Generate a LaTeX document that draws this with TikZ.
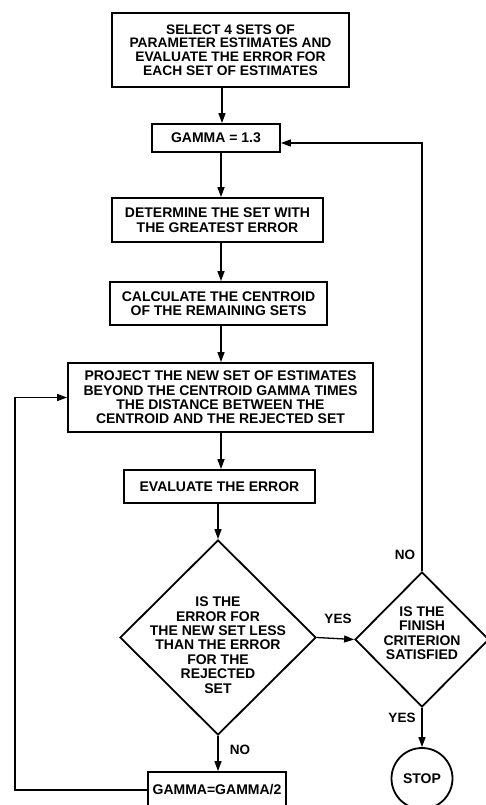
\documentclass[tikz,border=0pt]{standalone}
\usepackage{fontspec}
\setmainfont{Liberation Sans}
\usetikzlibrary{shapes.geometric,arrows.meta}
\newcommand\flowfont{\fontsize{14}{14.4}\selectfont\bfseries}
\tikzset{
  box/.style={draw, line width=1.8pt, inner sep=0pt, align=center, font=\flowfont},
  dia/.style={draw, diamond, line width=1.8pt, inner sep=0pt},
  txt/.style={align=center, font=\flowfont, inner sep=0pt},
  lbl/.style={font=\fontsize{13.5}{14}\selectfont\bfseries, inner sep=0pt},
  conn/.style={line width=1.3pt, -{Triangle[length=10pt,width=7pt]}},
}
\begin{document}
\begin{tikzpicture}[x=1pt,y=-1pt]
\useasboundingbox (0,0) rectangle (485,805);
% nodes
\node[box, minimum width=237pt, minimum height=74pt, font=\fontsize{13.8}{13.7}\selectfont\bfseries] (b1) at (230.5,50)
  {SELECT 4 SETS OF\\PARAMETER ESTIMATES AND\\EVALUATE THE ERROR FOR\\EACH SET OF ESTIMATES};
\node[box, minimum width=128pt, minimum height=28pt] (gamma) at (216,138) {GAMMA = 1.3};
\node[box, minimum width=211pt, minimum height=44pt] (det) at (217.5,220)
  {DETERMINE THE SET WITH\\THE GREATEST ERROR};
\node[box, minimum width=217pt, minimum height=43pt] (calc) at (218.5,303.5)
  {CALCULATE THE CENTROID\\OF THE REMAINING SETS};
\node[box, minimum width=305pt, minimum height=69pt] (proj) at (220.5,397.5)
  {PROJECT THE NEW SET OF ESTIMATES\\BEYOND THE CENTROID GAMMA TIMES\\THE DISTANCE BETWEEN THE\\CENTROID AND THE REJECTED SET};
\node[box, minimum width=191pt, minimum height=33pt] (eval) at (219.5,486.5) {EVALUATE THE ERROR};
\node[dia, minimum width=196pt, minimum height=195pt] (d1) at (218,637.5) {};
\node[txt] (d1t) at (218,645)
  {IS THE\\ERROR FOR\\THE NEW SET LESS\\THAN THE ERROR\\FOR THE\\REJECTED\\SET};
\node[dia, minimum width=134pt, minimum height=135pt] (d2) at (422,639.5) {};
\node[txt] (d2t) at (422,633) {IS THE\\FINISH\\CRITERION\\SATISFIED};
\node[draw, circle, line width=1.8pt, minimum size=61pt, inner sep=0pt, font=\flowfont] (stop) at (422,778.5) {STOP};
\node[box, minimum width=138pt, minimum height=36pt] (g2) at (217,790) {GAMMA=GAMMA/2};
% labels
\node[lbl] (yes1) at (338,619) {YES};
\node[lbl] (no1) at (405,555) {NO};
\node[lbl] (yes2) at (402,718) {YES};
\node[lbl] (no2) at (240,750) {NO};
% trunk coordinate
\coordinate (t0) at (222,0);
\coordinate (t1) at (221,0);
% connectors
\draw[conn] (b1.south -| t0) -- (gamma.north -| t0);
\draw[conn] (gamma.south -| t1) -- (det.north -| t1);
\draw[conn] (det.south -| t1) -- (calc.north -| t1);
\draw[conn] (calc.south -| t1) -- (proj.north -| t1);
\draw[conn] (proj.south -| t1) -- (eval.north -| t1);
\draw[conn] (eval.south -| d1.north) -- (d1.north);
\draw[conn] (d1.east) -- (d2.west);
\draw[conn] (d2.north) |- ([yshift=-5pt]gamma.east);
\draw[conn] (d2.south) -- (stop.north);
\draw[conn] (d1.south) -- (g2.north -| d1.south);
\draw[conn] (g2.west) -- ++(-132,0) |- (proj.west);
\end{tikzpicture}
\end{document}
